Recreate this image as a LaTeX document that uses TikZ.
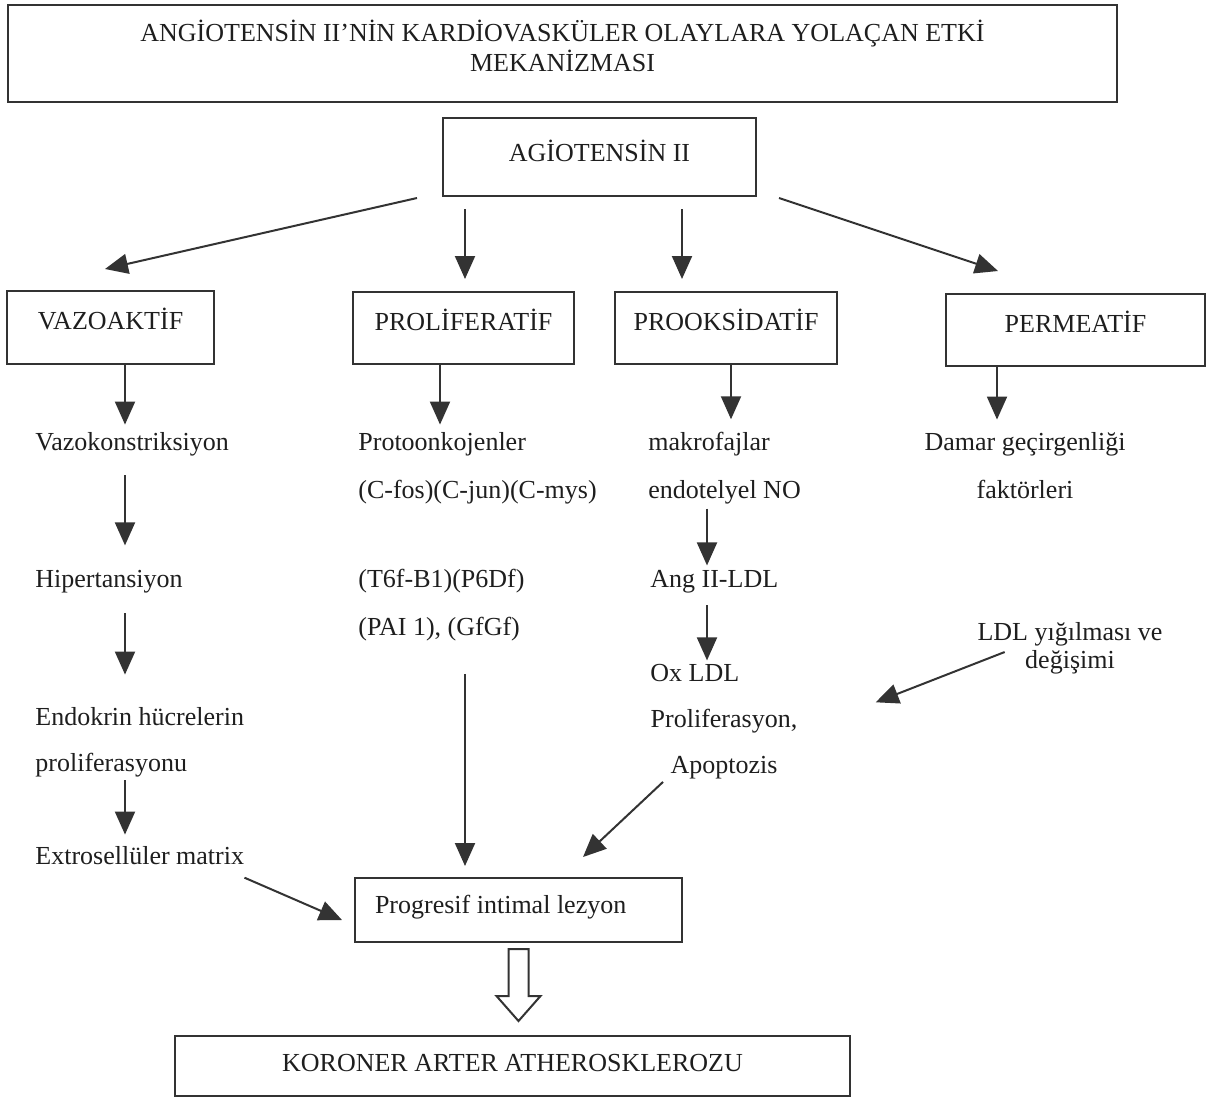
\documentclass[tikz,border=0pt]{standalone}
\usepackage{fontspec}
\setmainfont{Liberation Serif}
\usetikzlibrary{arrows.meta,calc}
\definecolor{cizgi}{HTML}{333333}
\definecolor{yazi}{HTML}{1E1E1E}
\begin{document}
\begin{tikzpicture}[x=0.5pt,y=-0.5pt,
  font=\fontsize{13}{15}\selectfont, text=yazi,
  kutu/.style={draw=cizgi, line width=1pt, inner sep=0pt, text height=9pt},
  metin/.style={inner sep=0pt, anchor=base west, align=left},
  ok/.style={draw=cizgi, line width=1pt, -{Triangle[length=11.5pt,width=10pt]}}]
\useasboundingbox (0,0) rectangle (1208,1098);
% kutular
\node[kutu, minimum width=554.5pt, minimum height=48.5pt, align=center, text height=24pt, text depth=6.5pt]
  (baslik) at (562.5,53.5) {ANGİOTENSİN II’NİN KARDİOVASKÜLER OLAYLARA YOLAÇAN ETKİ\\MEKANİZMASI};
\node[kutu, minimum width=156.5pt, minimum height=39pt, text depth=5pt] (ang) at (599.5,157) {AGİOTENSİN II};
\node[kutu, minimum width=103.5pt, minimum height=36.5pt, text depth=7.5pt] (vaz) at (110.5,327.5) {VAZOAKTİF};
\node[kutu, minimum width=110.5pt, minimum height=36pt, text depth=7pt] (pro) at (463.5,328) {PROLİFERATİF};
\node[kutu, minimum width=111pt, minimum height=36pt, text depth=7pt] (prook) at (726,328) {PROOKSİDATİF};
\node[kutu, minimum width=129.5pt, minimum height=36pt, text depth=7pt] (perm) at (1075.5,330) {PERMEATİF};
\node[kutu, minimum width=163.5pt, minimum height=32pt, text depth=6pt, inner xsep=10pt,
  text width=143.5pt, align=flush left] (prog) at (518.5,910) {Progresif intimal lezyon};
\node[kutu, minimum width=337.5pt, minimum height=30pt, text depth=4pt] (kor) at (512.5,1066) {KORONER ARTER ATHEROSKLEROZU};
% metinler
\node[metin] (vk) at (35,450) {Vazokonstriksiyon};
\node[metin] (hip) at (35,587) {Hipertansiyon};
\node[metin, font=\fontsize{13}{23}\selectfont] (endo) at (35,771) {Endokrin hücrelerin\\proliferasyonu};
\node[metin] (ext) at (35,864) {Extrosellüler matrix};
\node[metin, font=\fontsize{13}{24}\selectfont] (prot) at (358,498) {Protoonkojenler\\(C-fos)(C-jun)(C-mys)};
\node[metin, font=\fontsize{13}{24}\selectfont] (tgf) at (358,635) {(T6f-B1)(P6Df)\\(PAI 1), (GfGf)};
\node[metin, font=\fontsize{13}{24}\selectfont] (mak) at (648,498) {makrofajlar\\endotelyel NO};
\node[metin] (ang2) at (650,587) {Ang II-LDL};
\node[metin] (ox) at (650,681) {Ox LDL};
\node[metin, anchor=base, align=center, font=\fontsize{13}{23}\selectfont] (prol) at (724,773) {Proliferasyon,\\Apoptozis};
\node[metin, anchor=base, align=center, font=\fontsize{13}{24}\selectfont] (damar) at (1025,498) {Damar geçirgenliği\\faktörleri};
\node[metin, anchor=base, align=center, font=\fontsize{13}{14}\selectfont] (ldl) at (1070,668) {LDL yığılması ve\\değişimi};
% oklar
\draw[ok] ($(ang.south west)+(-25,1)$) -- ($(vaz.north)+(-5.5,-21)$);
\draw[ok] ($(ang.south -| pro.north)+(1.5,12)$) -- ($(pro.north)+(1.5,-12)$);
\draw[ok] ($(ang.south -| prook.north)+(-44,12)$) -- ($(prook.north)+(-44,-12)$);
\draw[ok] ($(ang.south east)+(22,1)$) -- ($(perm.north)+(-77.5,-22)$);
\draw[ok] ($(vaz.south)+(14.5,0)$) -- ($(vk.north -| vaz.south)+(14.5,-7)$);
\draw[ok] ($(pro.south)+(-23.5,0)$) -- ($(prot.north -| pro.south)+(-23.5,-7)$);
\draw[ok] ($(prook.south)+(5,0)$) -- ($(mak.north -| prook.south)+(5,-12)$);
\draw[ok] ($(perm.south)+(-78.5,0)$) -- ($(damar.north -| perm.south)+(-78.5,-12)$);
\draw[ok] ($(vk.south -| vaz.south)+(14.5,19)$) -- ($(hip.north -| vaz.south)+(14.5,-24)$);
\draw[ok] ($(hip.south -| vaz.south)+(14.5,20)$) -- ($(endo.north -| vaz.south)+(14.5,-32)$);
\draw[ok] ($(endo.south -| vaz.south)+(14.5,3)$) -- ($(ext.north -| vaz.south)+(14.5,-11)$);
\draw[ok] ($(mak.south west)+(59,4.5)$) -- ($(ang2.north west)+(57,-4)$);
\draw[ok] ($(ang2.south west)+(57,12)$) -- ($(ox.north west)+(57,-3)$);
\draw[ok] ($(ldl.south west)+(27.5,-22)$) -- ($(prol.north east)+(78,-6)$);
\draw[ok] ($(prol.south)+(-61,3)$) -- ($(prog.north)+(64.5,-20)$);
\draw[ok] ($(tgf.south -| prog.north)+(-53.5,33)$) -- ($(prog.north)+(-53.5,-11)$);
\draw[ok] ($(ext.south east)+(0,13)$) -- ($(prog.west)+(-12,10)$);
% bos ok
\draw[cizgi, line width=1pt, line join=miter] ($(prog.south)+(-10,6)$) -- ++(0,47) -- ++(-12,0) -- ++(22,25)
  -- ++(22,-25) -- ++(-12,0) -- ++(0,-47) -- cycle;
\end{tikzpicture}
\end{document}
